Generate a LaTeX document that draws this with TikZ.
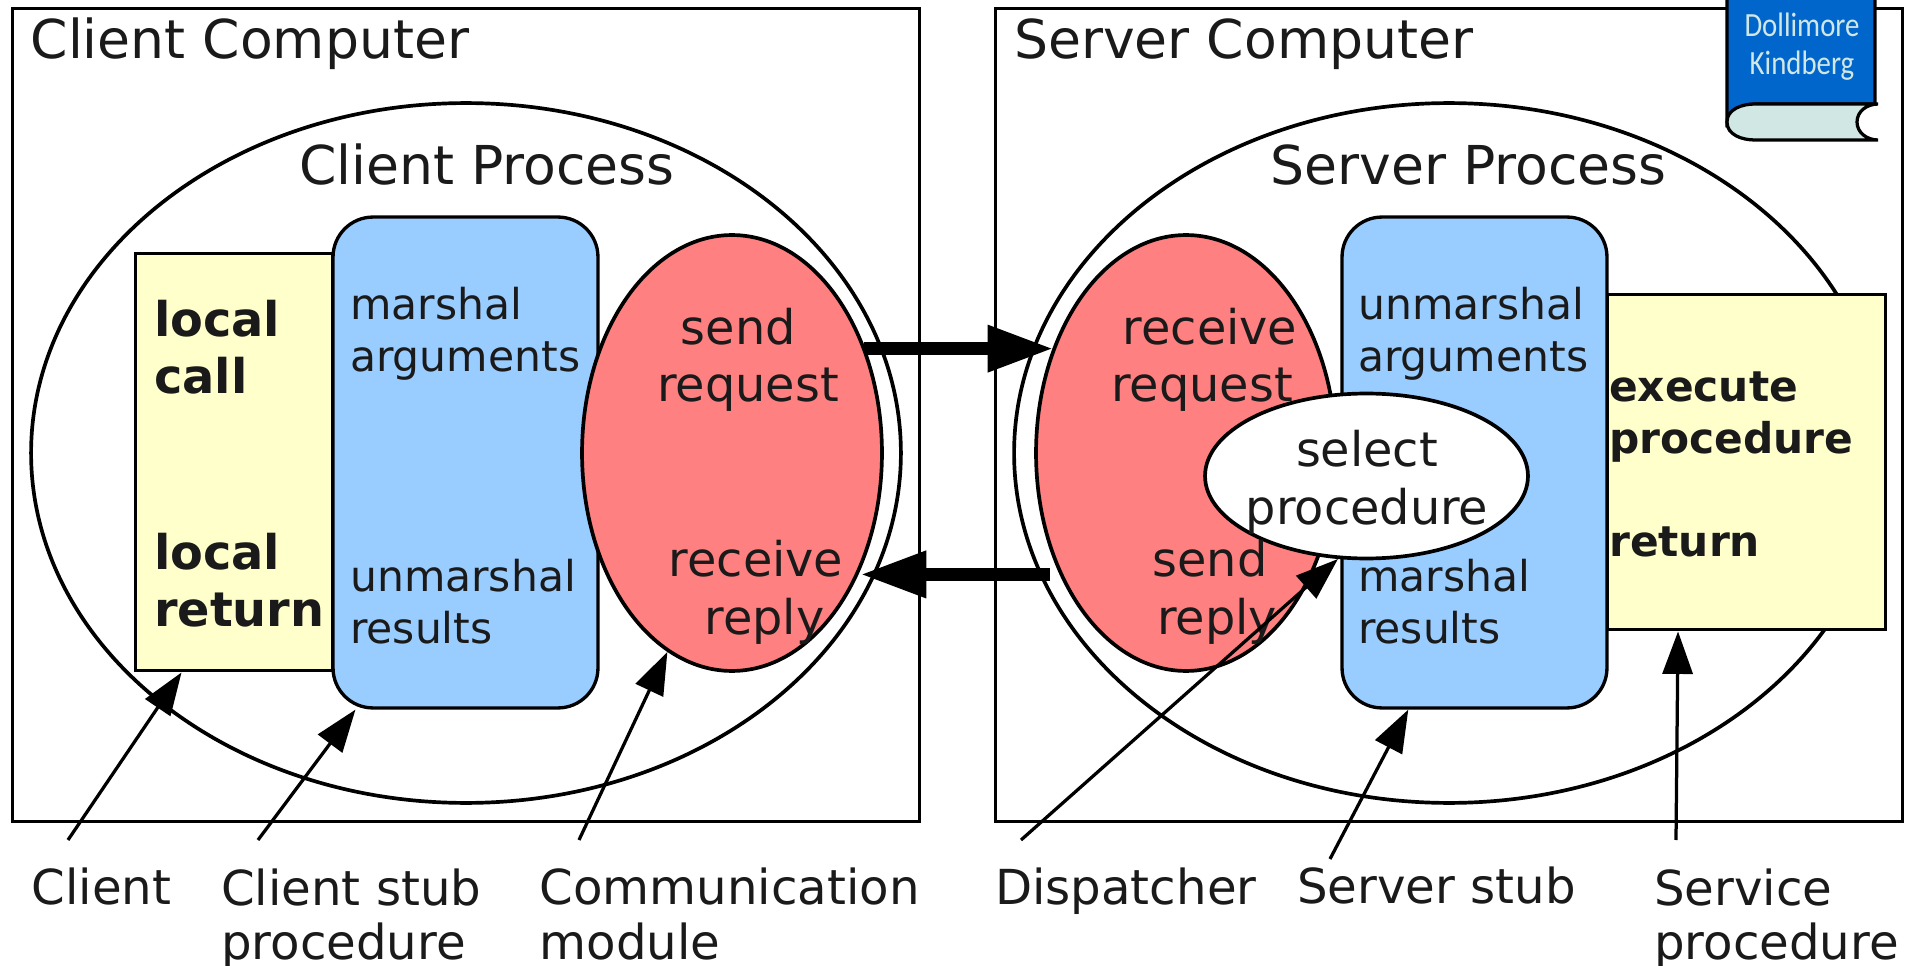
\documentclass[tikz,border=0pt]{standalone}
\usepackage{fontspec}
\usepackage{xcolor}
\setmainfont{DejaVu Sans}
\newfontfamily\bookfont{Carlito}
\usetikzlibrary{shapes.geometric}
\usetikzlibrary{arrows.meta}
\definecolor{stubblue}{HTML}{99CCFF}
\definecolor{moduleyellow}{HTML}{FFFFCC}
\definecolor{commred}{HTML}{FF8080}
\definecolor{bookblue}{HTML}{0066CC}
\definecolor{bookpale}{HTML}{D0E7E3}
\definecolor{inktext}{HTML}{1A1A1A}

\begin{document}
\begin{tikzpicture}[x=0.02cm, y=-0.02cm, line width=1.85pt, every node/.style={inner sep=0pt, text=inktext}]
    \tikzstyle{computer} = [rectangle, draw=black, fill=white, line width=1.7pt, minimum width=18.16cm, minimum height=16.25cm]
    \tikzstyle{process} = [ellipse, draw=black, fill=white, line width=2.1pt, minimum width=17.4cm, minimum height=14cm]
    \tikzstyle{yellowbox} = [rectangle, draw=black, fill=moduleyellow, line width=1.7pt]
    \tikzstyle{stub} = [rectangle, rounded corners=0.8cm, draw=black, fill=stubblue, line width=1.9pt, minimum width=5.3cm, minimum height=9.82cm]
    \tikzstyle{comm} = [ellipse, draw=black, fill=commred, line width=2.1pt, minimum width=6cm, minimum height=8.72cm]
    \tikzstyle{selector} = [ellipse, draw=black, fill=white, line width=2.1pt, minimum width=6.46cm, minimum height=3.3cm]
    \tikzstyle{title} = [anchor=west, font=\fontsize{30.5}{35}\selectfont]
    \tikzstyle{midtext} = [align=center, font=\fontsize{27.2}{32.8}\selectfont]
    \tikzstyle{stubtext} = [anchor=west, align=left, font=\fontsize{24.2}{29.5}\selectfont]
    \tikzstyle{boldtext} = [anchor=west, align=left, font=\fontsize{27.2}{32.3}\selectfont\bfseries]
    \tikzstyle{boldsmall} = [anchor=west, align=left, font=\fontsize{24.1}{29.5}\selectfont\bfseries]
    \tikzstyle{caption} = [anchor=west, align=left, font=\fontsize{27.45}{31}\selectfont]
    \tikzstyle{pointer} = [-{Triangle[length=0.85cm, width=0.6cm]}]
    \tikzstyle{network} = [-{Triangle[length=1.32cm, width=0.88cm]}, line width=0.26cm]

    \useasboundingbox (0,0) rectangle (1911,966);

    % Computers
    \node [computer] (client_pc) at (466,415) {};
    \node [computer] (server_pc) at (1449,415) {};
    \node [title] (client_pc_text) at (29,44) {Client Computer};
    \node [title] (server_pc_text) at (1012.5,44) {Server Computer};

    % Processes
    \node [process] (client_proc) at (466,453) {};
    \node [process] (server_proc) at (1449,453) {};
    \node [title] (client_proc_text) at (297.5,164.5) {Client Process};
    \node [title] (server_proc_text) at (1269,164.5) {Server Process};

    % Client side
    \node [yellowbox, minimum width=3.96cm, minimum height=8.36cm] (client) at (234,462) {};
    \node [stub] (client_stub) at (465.5,462.5) {};
    \node [comm] (client_comm) at (732,453) {};
    \node [boldtext] (local_call) at (152.5,347) {local\\call};
    \node [boldtext] (local_return) at (152.5,580) {local\\return};
    \node [stubtext] (marshal_args) at (348.5,334) {marshal\\arguments};
    \node [stubtext] (unmarshal_res) at (348.5,602) {unmarshal\\results};
    \node [midtext] (send_request) at (748,360) {send\hspace*{0.39cm}\\request};
    \node [midtext] (receive_reply) at (756,592.5) {receive\\\hspace*{0.34cm}reply};

    % Server side
    \node [comm] (server_comm) at (1186,453) {};
    \node [stub] (server_stub) at (1474.5,462.5) {};
    \node [yellowbox, minimum width=5.58cm, minimum height=6.72cm] (service) at (1746.5,462) {};
    \node [selector] (dispatcher) at (1366.5,476) {};
    \node [midtext] (receive_request) at (1210,360) {receive\\request\hspace*{0.32cm}};
    \node [midtext] (send_reply) at (1210,592.5) {send\\\hspace*{0.28cm}reply};
    \node [stubtext] (unmarshal_args) at (1356.5,334) {unmarshal\\arguments};
    \node [stubtext] (marshal_res) at (1356.5,602) {marshal\\results};
    \node [midtext] (select_text) at (1367,482) {select\\procedure};
    \node [boldsmall] (execute_text) at (1607.5,417) {execute\\procedure};
    \node [boldsmall] (return_text) at (1607.5,542) {return};

    % Book in the corner
    \path [fill=bookblue, draw=black] (1727,-5) -- (1875,-5) -- (1875,104) -- (1755,104) to[out=180, in=60] (1727,122) -- cycle;
    \path [fill=bookpale, draw=black] (1878,104) -- (1755,104) to[out=180, in=90] (1727,122) to[out=-90, in=180] (1755,140) -- (1878,140) to[out=180, in=-90] (1857,122) to[out=90, in=180] cycle;
    \node [align=center, text=bookpale, xscale=0.85, font=\bookfont\fontsize{19.3}{21.5}\selectfont] (book_text) at (1802,28) {Coulouris\\Dollimore\\Kindberg};

    % Captions
    \node [caption] (client_label) at (30,887) {Client};
    \node [caption] (client_stub_label) at (219.5,919) {Client stub\\procedure};
    \node [caption] (comm_label) at (538,914) {Communication\\module};
    \node [caption] (dispatcher_label) at (993.5,891) {Dispatcher};
    \node [caption] (server_stub_label) at (1295.5,886) {Server stub};
    \node [caption] (service_label) at (1652.5,919) {Service\\procedure};

    % Free ends of the pointers
    \coordinate (client_tail) at (68,840);
    \coordinate (client_stub_tail) at (258,840);
    \coordinate (comm_tail) at (579,840);
    \coordinate (dispatcher_tail) at (1021,840);
    \coordinate (server_stub_tail) at (1330,859);
    \coordinate (service_tail) at (1676,840);

    % Pointers
    \draw [pointer] (client_tail) -- (client.-104.4);
    \draw [pointer] (client_stub_tail) -- (client_stub.-114.4);
    \draw [pointer] (comm_tail) -- (client_comm.-108);
    \draw [pointer] (dispatcher_tail) -- (dispatcher.-109);
    \draw [pointer] (server_stub_tail) -- (server_stub.-105.3);
    \draw [pointer] (service_tail) -- (service.-112.2);

    % Messages between the computers
    \draw [network, shorten <=-0.04cm] (client_comm.38.2) -- (client_comm.38.2 -| server_comm.141.8);
    \draw [network, shorten <=0.22cm, shorten >=0.04cm] ([yshift=0.07cm]server_comm.-135.5) -- ([yshift=0.07cm]server_comm.-135.5 -| client_comm.-44.5);
\end{tikzpicture}
\end{document}
